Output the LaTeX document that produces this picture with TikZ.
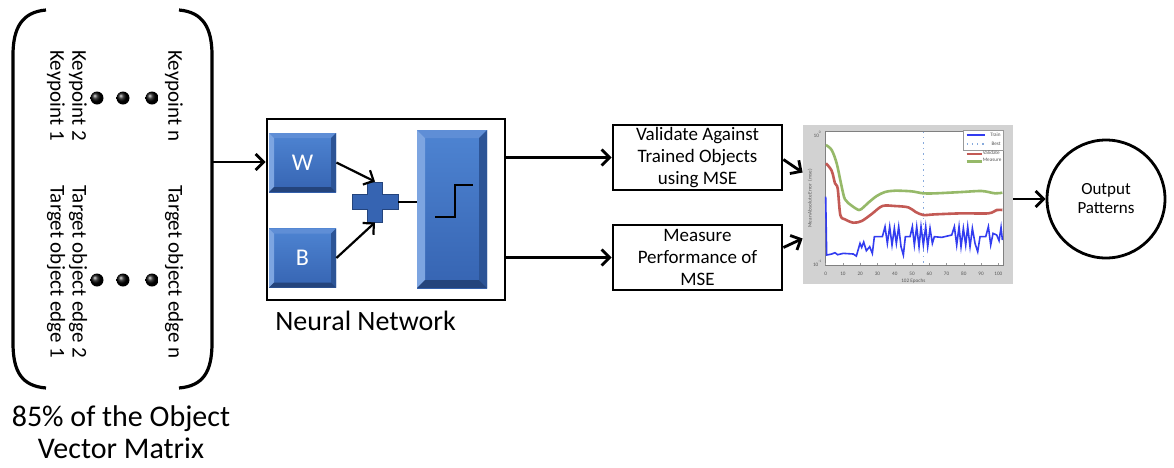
\documentclass[tikz,border=0pt]{standalone}
\usepackage{fontspec}
\setmainfont{Carlito}
\usetikzlibrary{arrows,arrows.meta,positioning}

\definecolor{nntop}{RGB}{78,132,210}
\definecolor{nnbottom}{RGB}{54,100,178}
\definecolor{nnlight}{RGB}{125,165,225}
\definecolor{nnmid}{RGB}{95,142,214}
\definecolor{nnshade}{RGB}{44,84,150}
\definecolor{nndark}{RGB}{36,68,124}
\definecolor{plotgray}{RGB}{210,210,210}
\definecolor{trainblue}{RGB}{50,60,240}
\definecolor{valred}{RGB}{195,90,85}
\definecolor{measgreen}{RGB}{150,185,105}
\definecolor{bestblue}{RGB}{135,170,220}

% bevelled edge of a block, #1 = width of the bevel
\newcommand{\bevelpic}[1]{%
  \coordinate (bNW) at (path picture bounding box.north west);
  \coordinate (bNE) at (path picture bounding box.north east);
  \coordinate (bSW) at (path picture bounding box.south west);
  \coordinate (bSE) at (path picture bounding box.south east);
  \fill[nnmid] (bNW) -- (bNE) -- ([shift={(-#1,-#1)}]bNE) -- ([shift={(#1,-#1)}]bNW) -- cycle;
  \fill[nnlight] (bNW) -- (bSW) -- ([shift={(#1,#1)}]bSW) -- ([shift={(#1,-#1)}]bNW) -- cycle;
  \fill[nnshade] (bNE) -- (bSE) -- ([shift={(-#1,#1)}]bSE) -- ([shift={(-#1,-#1)}]bNE) -- cycle;
  \fill[nndark] (bSW) -- (bSE) -- ([shift={(-#1,#1)}]bSE) -- ([shift={(#1,#1)}]bSW) -- cycle;
}

\begin{document}
\begin{tikzpicture}[x=0.5pt, y=-0.5pt, >={Straight Barb[length=4pt,width=8pt]},
    conn/.style={line width=1.4pt},
    blueblock/.style={top color=nntop, bottom color=nnbottom, inner sep=0pt, text=white,
      font=\fontsize{12}{12}\selectfont, minimum width=33.5pt, minimum height=29.5pt,
      path picture={\bevelpic{2.5pt}}},
    stagebox/.style={draw, line width=1.4pt, minimum width=84.5pt, minimum height=32.5pt,
      inner sep=0pt, align=center, font=\fontsize{9.5}{11}\selectfont},
    vtext/.style={rotate=-90, anchor=west, inner sep=0pt, font=\fontsize{10.5}{10.5}\selectfont},
    ball/.style={circle, shading=ball, ball color=black, minimum size=6.5pt, inner sep=0pt},
    axislabel/.style={font=\fontsize{2.6}{2.6}\selectfont, text=black!65, inner sep=0pt}]

  \useasboundingbox (0,0) rectangle (1174,467);

  % Vector matrix
  \draw[line width=1.6pt] (46,10) .. controls (22,12) and (13,28) .. (13,55) -- (13,343)
    .. controls (13,372) and (22,386) .. (46,388);
  \draw[line width=1.6pt] (179,10) .. controls (203,12) and (212,28) .. (212,55) -- (212,343)
    .. controls (212,372) and (203,386) .. (179,388);

  \node[vtext] (kp1) at (56,50) {Keypoint 1};
  \node[vtext] (kp2) at (78,50) {Keypoint 2};
  \node[vtext] (kpn) at (174,50) {Keypoint n};
  \node[vtext] (te1) at (56,185) {Target object edge 1};
  \node[vtext] (te2) at (78,185) {Target object edge 2};
  \node[vtext] (ten) at (174,185) {Target object edge n};

  \foreach \x in {97,123,152} {
    \node[ball] at (\x,98) {};
    \node[ball] at (\x,280) {};
  }

  \node[align=center, font=\fontsize{15}{16}\selectfont, inner sep=0pt] (mlabel) at (121,432)
    {85\% of the Object\\Vector Matrix};
  \coordinate (matR) at (213,162);

  % Neural network
  \node[draw, line width=1.4pt, minimum width=119pt, minimum height=90.5pt] (nn) at (386,209.5) {};
  \node[blueblock] (w) at (302.5,162.5) {W};
  \node[blueblock] (b) at (302.5,258) {B};
  \node[minimum width=23pt, minimum height=20pt, inner sep=0pt] (sum) at (375,202) {};
  \filldraw[fill=nnbottom, draw=nndark, line width=0.5pt] (sum.center) ++(-11.5pt,3.75pt)
    -- ++(7.75pt,0) -- ++(0,6.25pt) -- ++(7.5pt,0) -- ++(0,-6.25pt) -- ++(7.75pt,0)
    -- ++(0,-7.5pt) -- ++(-7.75pt,0) -- ++(0,-6.25pt) -- ++(-7.5pt,0) -- ++(0,6.25pt)
    -- ++(-7.75pt,0) -- cycle;
  \node[blueblock, minimum width=35pt, minimum height=79pt, path picture={\bevelpic{4pt}}] (act) at (452,209) {};
  \draw[line width=1.3pt] ([shift={(-17,8)}]act.center) -- ++(20,0) -- ++(0,-32) -- ++(18,0);
  \node[anchor=base west, font=\fontsize{14}{14}\selectfont, inner sep=0pt] (nnlabel) at (275,330) {Neural Network};

  \draw[line width=1.1pt,->] (w.east) -- (sum.north);
  \draw[line width=1.1pt,->] (b.east) -- (sum.south);
  \draw[line width=1.1pt] (sum.east) -- (sum.east -| act.west);

  % Stages
  \node[stagebox] (val) at (697.5,157.5) {Validate Against\\Trained Objects\\using MSE};
  \node[stagebox] (meas) at (697.5,257.5) {Measure\\Performance of\\MSE};

  % Performance plot
  \node[fill=plotgray, minimum width=105pt, minimum height=79.5pt, inner sep=0pt] (plot) at (908,204.5) {};
  \begin{scope}[shift={(795,120)}, x=0.1667pt, y=-0.1667pt]
    \draw[fill=white, draw=black!50, line width=0.3pt] (90,35) rectangle (625,435);
    \foreach \v [count=\i from 0] in {0,10,...,100} {
      \node[axislabel] at (92+51.8*\i,462) {\v};
      \draw[black!40, line width=0.2pt] (92+51.8*\i,435) -- ++(0,-6);
    }
    \node[axislabel] at (355,484) {102 Epochs};
    \node[axislabel, rotate=90] at (45,235) {Mean Absolute Error \ (mse)};
    \node[axislabel] at (68,42) {10\textsuperscript{0}};
    \node[axislabel] at (68,430) {10\textsuperscript{-1}};
    \draw[bestblue, dotted, line width=0.7pt] (385,35) -- (385,435);
    \draw[measgreen, line width=1.3pt] plot[smooth] coordinates {(93,75) (110,90) (125,130) (140,200)
      (150,238) (170,257) (192,270) (205,262) (220,248) (245,228) (270,216) (300,212) (350,214)
      (385,220) (420,220) (500,216) (560,213) (600,220) (622,218)};
    \draw[valred, line width=1.3pt] plot[smooth] coordinates {(93,130) (110,152) (120,190) (128,205)
      (136,285) (150,298) (175,308) (200,303) (230,282) (262,258) (300,258) (340,262) (362,276)
      (385,285) (420,283) (500,280) (580,280) (605,270) (622,270)};
    \draw[trainblue, line width=0.8pt] (92,230) -- (95,405) -- (110,402) -- (120,398) -- (128,404)
      -- (145,400) -- (175,402) -- (184,408) -- (195,370) -- (200,382) -- (206,366) -- (214,392)
      -- (224,380) -- (232,400) -- (238,350) -- (262,350) -- (270,320) -- (277,370) -- (284,320)
      -- (291,375) -- (298,325) -- (304,370) -- (311,320) -- (318,380) -- (325,405) -- (331,350)
      -- (345,350) -- (352,320) -- (358,375) -- (365,320) -- (372,380) -- (378,320) -- (385,375)
      -- (392,320) -- (398,380) -- (405,325) -- (412,370) -- (418,350) -- (440,352) -- (470,345)
      -- (478,320) -- (485,375) -- (492,320) -- (498,380) -- (505,325) -- (512,375) -- (518,320)
      -- (525,380) -- (532,325) -- (540,370) -- (548,395) -- (555,350) -- (572,350) -- (580,320)
      -- (587,375) -- (594,340) -- (605,345) -- (612,362) -- (618,322) -- (622,360);
    % legend
    \draw[black!40, line width=0.3pt, fill=white] (504,30) rectangle (624,90);
    \draw[trainblue, line width=0.6pt] (515,45) -- (570,45);
    \draw[bestblue, dotted, line width=0.6pt] (515,72) -- (570,72);
    \draw[valred, line width=1.2pt] (515,102) -- (560,102);
    \draw[measgreen, line width=1.2pt] (515,124) -- (560,124);
    \node[axislabel, anchor=east] at (618,45) {Train};
    \node[axislabel, anchor=east] at (618,72) {Best};
    \node[axislabel, anchor=west] at (562,99) {Validate};
    \node[axislabel, anchor=west] at (562,121) {Measure};
  \end{scope}

  % Output
  \node[circle, draw, line width=1.4pt, minimum size=59pt, inner sep=0pt, align=center,
    font=\fontsize{8.5}{9.5}\selectfont] (out) at (1106,199) {Output\\Patterns};

  % Connections
  \draw[conn,->] (matR) -- (matR -| nn.west);
  \draw[conn,->] (nn.east |- val.west) -- (val.west);
  \draw[conn,->] (nn.east |- meas.west) -- (meas.west);
  \draw[conn,->] ([yshift=-1pt]val.east) -- ([yshift=16pt]plot.west);
  \draw[conn,->] ([yshift=5pt]meas.east) -- ([yshift=-17pt]plot.west);
  \draw[conn,->] (plot.east |- out.west) -- (out.west);

\end{tikzpicture}
\end{document}
